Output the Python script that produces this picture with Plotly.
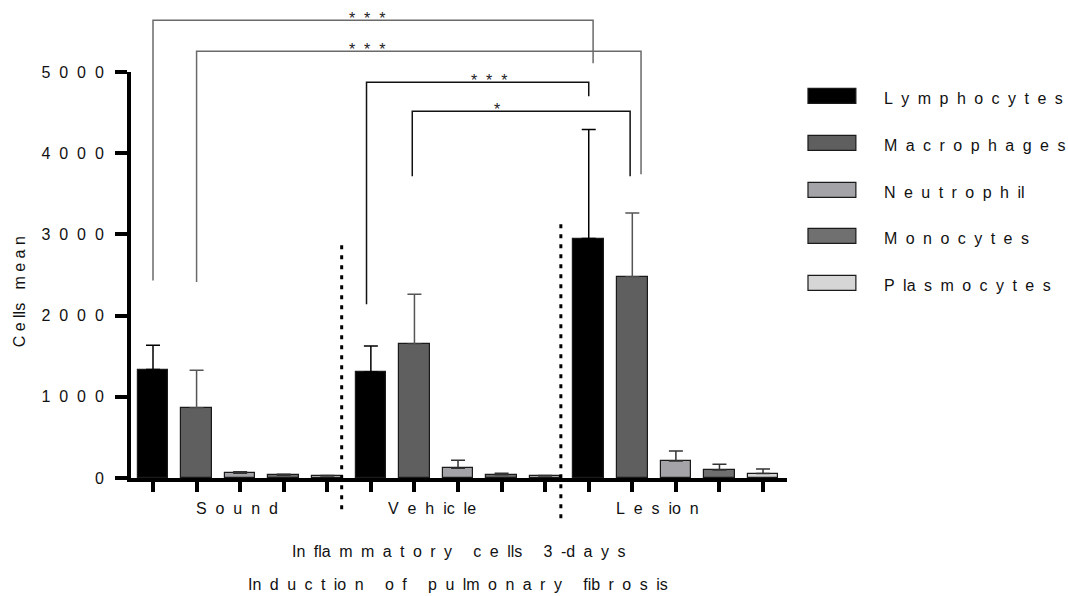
import plotly.graph_objects as go

# ---- data -------------------------------------------------------------
groups = ["Sound", "Vehicle", "Lesion"]
cell_types = ["Lymphocytes", "Macrophages", "Neutrophil", "Monocytes", "Plasmocytes"]

lymphocytes = [1335, 1305, 2948]
macrophages = [862, 1647, 2475]
neutrophil = [60, 120, 210]
monocytes = [35, 40, 100]
plasmocytes = [25, 25, 55]

lymphocytes_err = [300, 320, 1345]
macrophages_err = [465, 615, 790]
neutrophil_err = [17, 100, 122]
monocytes_err = [10, 20, 70]
plasmocytes_err = [5, 5, 57]

y_ticks = [0, 1000, 2000, 3000, 4000, 5000]

# significance brackets: (left bar index, right bar index, bar height,
# left leg bottom, right leg bottom, label, label position index)
brackets = [
    (0.0, 10.1, 5637, 2433, 5107, "***", 4.9),
    (1.0, 11.2, 5255, 2414, 3740, "***", 4.9),
    (4.9, 10.0, 4873, 2139, 4700, "***", 7.7),
    (5.95, 10.95, 4516, 3716, 3716, "*", 7.9),
]

# ---- styling ----------------------------------------------------------
FONT = "Liberation Sans, Arial, sans-serif"
NB = "\u00a0"
GAP_WIDE = NB + NB
GAP_MID = NB + "\u2005"
GAP_SMALL = NB
NARROW = set("Ilif-")
fills = ["#000000", "#5f5f5f", "#a4a4a8", "#707070", "#d6d6d6"]
err_colors = ["#000000", "#555555", "#333333", "#333333", "#333333"]

values = [lymphocytes, macrophages, neutrophil, monocytes, plasmocytes]
errors = [lymphocytes_err, macrophages_err, neutrophil_err, monocytes_err, plasmocytes_err]

XMIN, XMAX = -0.505, 14.55
YMAX = 5000
n_cells = len(cell_types)


def spaced(s, gap=GAP_WIDE):
    """Letter-spaced text: gaps made of fixed-width spaces."""
    words = []
    for w in s.split(" "):
        out = ""
        for i, ch in enumerate(w):
            out += ch
            if i < len(w) - 1 and ch not in NARROW:
                out += gap
        words.append(out)
    return (gap + NB + gap).join(words)


def px(idx):
    return (idx - XMIN) / (XMAX - XMIN)


def py(v):
    return v / YMAX


fig = go.Figure()

for i, name in enumerate(cell_types):
    xs = [g * n_cells + i for g in range(len(groups))]
    fig.add_trace(go.Bar(
        x=xs, y=values[i], name=name, width=0.7,
        marker=dict(color=fills[i], line=dict(color="#1a1a1a", width=1.2)),
        error_y=dict(type="data", symmetric=False, array=errors[i],
                     arrayminus=[0] * len(groups), color=err_colors[i],
                     thickness=1.5, width=7),
        showlegend=False,
    ))

shapes = []
annotations = []

# group separators: (position index, top value, bottom value)
separators = [(4.33, 2903, -385), (9.36, 3171, -496)]
for sx, top, bot in separators:
    shapes.append(dict(type="line", xref="paper", yref="paper",
                       x0=px(sx), x1=px(sx), y0=py(bot), y1=py(top),
                       line=dict(color="#000000", width=3, dash="4px,6px")))

# brackets
for k, (a, b, h, la, rb, lab, lx) in enumerate(brackets):
    col = "#6a6a6a" if k < 2 else "#111111"
    shapes.append(dict(type="path", xref="paper", yref="paper",
                       path=f"M {px(a)} {py(la)} L {px(a)} {py(h)} L {px(b)} {py(h)} L {px(b)} {py(rb)}",
                       line=dict(color=col, width=1.5)))
    annotations.append(dict(x=px(lx), y=py(h), xref="paper", yref="paper",
                            text=spaced(lab), showarrow=False,
                            xanchor="center", yanchor="bottom", yshift=-9,
                            font=dict(family=FONT, size=16, color="#222222")))

# group labels
group_pos = [1.92, 6.4, 11.57]
for g, gx in zip(groups, group_pos):
    annotations.append(dict(x=px(gx), y=py(-373), xref="paper", yref="paper",
                            text=spaced(g), showarrow=False,
                            xanchor="center", yanchor="middle",
                            font=dict(family=FONT, size=16, color="#111111")))

# x axis titles
for txt, yy in [("Inflammatory cells 3-days", -0.181), ("Induction of pulmonary fibrosis", -0.262)]:
    annotations.append(dict(x=0.4985, y=yy, xref="paper", yref="paper",
                            text=spaced(txt, GAP_MID), showarrow=False,
                            xanchor="center", yanchor="middle",
                            font=dict(family=FONT, size=16, color="#111111")))

# legend
leg_x0, leg_x1, leg_tx = 1.032, 1.105, 1.145
leg_y = [95.5, 142.5, 189.5, 235.5, 282.5]
for i, name in enumerate(cell_types):
    yc = (477.7 - leg_y[i]) / 406
    shapes.append(dict(type="rect", xref="paper", yref="paper",
                       x0=leg_x0, x1=leg_x1, y0=yc - 0.0185, y1=yc + 0.0185,
                       fillcolor=fills[i], line=dict(color="#1a1a1a", width=1.2)))
    annotations.append(dict(x=leg_tx, y=yc - 0.006, xref="paper", yref="paper",
                            text=spaced(name, GAP_MID), showarrow=False,
                            xanchor="left", yanchor="middle",
                            font=dict(family=FONT, size=16, color="#111111")))

# y axis title
annotations.append(dict(x=(19 - 131) / 656, y=(477.7 - 291) / 406,
                        xref="paper", yref="paper",
                        text=spaced("Cells mean", GAP_SMALL), showarrow=False, textangle=-90,
                        xanchor="center", yanchor="middle",
                        font=dict(family=FONT, size=16, color="#111111")))

fig.update_layout(
    width=1068, height=596,
    margin=dict(l=131, r=281, t=72, b=118),
    paper_bgcolor="white", plot_bgcolor="white",
    barmode="overlay",
    bargap=0,
    shapes=shapes,
    annotations=annotations,
    xaxis=dict(range=[XMIN, XMAX], tickvals=list(range(n_cells * len(groups))),
               showticklabels=False, ticks="outside", ticklen=10, tickwidth=4,
               tickcolor="#000000", showline=True, linewidth=4, linecolor="#000000",
               showgrid=False, zeroline=False, fixedrange=True),
    yaxis=dict(range=[0, YMAX], tickvals=y_ticks,
               ticktext=[spaced(str(t)) for t in y_ticks],
               ticks="outside", ticklen=12, tickwidth=4, tickcolor="#000000",
               showline=True, linewidth=4, linecolor="#000000",
               showgrid=False, zeroline=False, ticklabelstandoff=8,
               tickfont=dict(family=FONT, size=16, color="#111111"),
               fixedrange=True),
    font=dict(family=FONT, size=16, color="#111111"),
)

fig.write_html("out.html")
